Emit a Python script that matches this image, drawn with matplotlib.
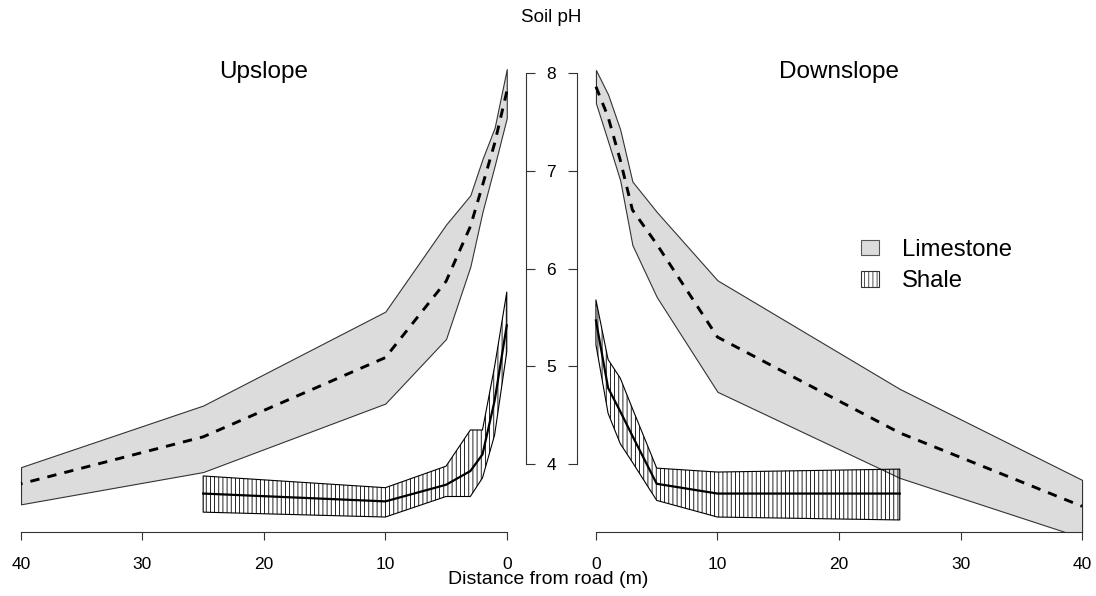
import numpy as np
import matplotlib.pyplot as plt
from matplotlib.patches import Patch

# ------------------------------------------------------------
# data (soil pH vs distance from road, m)
# ------------------------------------------------------------
dist_lime = [0, 1, 2, 3, 5, 10, 25, 40]
dist_shale = [0, 1, 2, 3, 5, 10, 25]

up_lime_hi = [8.04, 7.44, 7.12, 6.75, 6.45, 5.56, 4.60, 3.97]
up_lime_mid = [7.81, 7.28, 6.85, 6.43, 5.87, 5.09, 4.28, 3.80]
up_lime_lo = [7.54, 7.05, 6.58, 6.02, 5.28, 4.62, 3.92, 3.59]

up_shale_hi = [5.76, 5.00, 4.35, 4.35, 3.98, 3.76, 3.88]
up_shale_mid = [5.42, 4.65, 4.10, 3.93, 3.79, 3.62, 3.70]
up_shale_lo = [5.15, 4.30, 3.86, 3.67, 3.67, 3.46, 3.51]

dn_lime_hi = [8.03, 7.78, 7.42, 6.89, 6.58, 5.88, 4.77, 3.84]
dn_lime_mid = [7.86, 7.55, 7.11, 6.60, 6.25, 5.30, 4.32, 3.57]
dn_lime_lo = [7.69, 7.30, 6.90, 6.24, 5.71, 4.74, 3.86, 3.25]

dn_shale_hi = [5.68, 5.07, 4.88, 4.57, 3.96, 3.92, 3.95]
dn_shale_mid = [5.47, 4.78, 4.54, 4.29, 3.80, 3.70, 3.70]
dn_shale_lo = [5.22, 4.52, 4.21, 4.02, 3.63, 3.46, 3.43]

x_ticks = [0, 10, 20, 30, 40]
ph_ticks = [4, 5, 6, 7, 8]

# ------------------------------------------------------------
W, H = 1096, 596
LIME = "#dcdcdc"
AXC = "#333333"

plt.rcParams['font.family'] = ['Liberation Sans', 'DejaVu Sans']
plt.rcParams['hatch.linewidth'] = 0.6


def px_box(x0, x1, ytop, ybot):
    return [x0 / W, 1 - ybot / H, (x1 - x0) / W, (ybot - ytop) / H]


def draw_panel(ax, lime, shale):
    lo, mid, hi = lime
    ax.fill_between(dist_lime, lo, hi, facecolor=LIME, edgecolor=AXC, lw=0.8)
    ax.plot(dist_lime, mid, color="black", lw=2.1, ls=(0, (3.2, 2.8)))
    lo, mid, hi = shale
    ax.fill_between(dist_shale, lo, hi, facecolor="none", edgecolor="black",
                    hatch="||||", lw=0.8)
    ax.plot(dist_shale, mid, color="black", lw=1.6)

    ax.set_ylim(3.307, 8.2)
    for s in ax.spines.values():
        s.set_visible(False)
        s.set_color(AXC)
        s.set_linewidth(0.8)
    ax.spines["bottom"].set_visible(True)
    ax.spines["bottom"].set_bounds(0, 40)
    ax.set_xticks(x_ticks)
    ax.tick_params(axis="x", direction="out", length=5.8, width=0.8,
                   color=AXC, labelsize=12.5, pad=12)


fig = plt.figure(figsize=(W / 100, H / 100), dpi=100)
ax_up = fig.add_axes(px_box(1.6, 526.2, 53.4, 532))
ax_dn = fig.add_axes(px_box(576.5, 1101.5, 53.4, 532))

draw_panel(ax_up, (up_lime_lo, up_lime_mid, up_lime_hi),
           (up_shale_lo, up_shale_mid, up_shale_hi))
draw_panel(ax_dn, (dn_lime_lo, dn_lime_mid, dn_lime_hi),
           (dn_shale_lo, dn_shale_mid, dn_shale_hi))

ax_up.set_xlim(41.6, -1.6)
ax_dn.set_xlim(-1.6, 41.6)

# shared pH axis between the panels
ax_up.spines["right"].set_visible(True)
ax_up.spines["right"].set_bounds(4, 8)
ax_up.yaxis.tick_right()
ax_up.set_yticks(ph_ticks)
ax_up.tick_params(axis="y", direction="out", length=6.5, width=0.8,
                  color=AXC, labelright=False)

ax_dn.spines["left"].set_visible(True)
ax_dn.spines["left"].set_bounds(4, 8)
ax_dn.set_yticks(ph_ticks)
ax_dn.tick_params(axis="y", direction="out", length=6.5, width=0.8,
                  color=AXC, labelsize=12.5, pad=11.9)
for lab in ax_dn.get_yticklabels():
    lab.set_horizontalalignment("center")

ax_up.text(0.5, 0.961, "Upslope", transform=ax_up.transAxes,
           ha="center", va="center", fontsize=17.5)
ax_dn.text(0.5, 0.961, "Downslope", transform=ax_dn.transAxes,
           ha="center", va="center", fontsize=17.5)

fig.text(551 / W, 1 - 17 / H, "Soil pH", ha="center", va="center", fontsize=13.5)
fig.text(548 / W, 1 - 580 / H, "Distance from road (m)", ha="center",
         va="center", fontsize=14)

handles = [Patch(facecolor=LIME, edgecolor="#555555", lw=0.8),
           Patch(facecolor="white", edgecolor="#333333", hatch="||||", lw=0.8)]
ax_dn.legend(handles, ["Limestone", "Shale"], loc="center left",
             bbox_to_anchor=(860.7 / W, 1 - 265.5 / H),
             bbox_transform=fig.transFigure, frameon=False, fontsize=17.2,
             borderpad=0, borderaxespad=0, handlelength=0.78,
             handleheight=0.63, handletextpad=0.94, labelspacing=0.4)

fig.savefig("out.png", dpi=100)
